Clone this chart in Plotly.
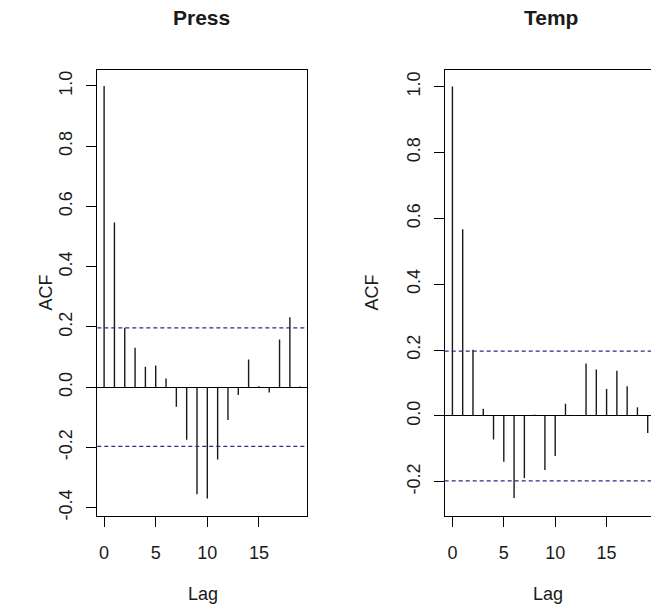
import plotly.graph_objects as go

lags = list(range(20))
press_acf = [1.0, 0.547, 0.197, 0.131, 0.068, 0.072, 0.029, -0.065, -0.175, -0.356,
             -0.370, -0.240, -0.109, -0.026, 0.092, 0.003, -0.018, 0.158, 0.232, 0.002]
temp_acf = [1.0, 0.567, 0.201, 0.022, -0.072, -0.139, -0.249, -0.189, 0.004, -0.164,
            -0.122, 0.037, 0.003, 0.159, 0.141, 0.082, 0.137, 0.090, 0.026, -0.052]
ci_level = 0.197
titles = ["Press", "Temp"]
x_ticks = [0, 5, 10, 15]
press_yticks = [-0.4, -0.2, 0.0, 0.2, 0.4, 0.6, 0.8, 1.0]
temp_yticks = [-0.2, 0.0, 0.2, 0.4, 0.6, 0.8, 1.0]

FONT = "Liberation Sans, Arial, sans-serif"
TXT = "#1a1a1a"
W, H = 651, 616

fig = go.Figure()

def stems(xs, ys, xa, ya):
    sx, sy = [], []
    for l, v in zip(xs, ys):
        sx += [l, l, None]
        sy += [0, v, None]
    fig.add_trace(go.Scatter(x=sx, y=sy, mode="lines", xaxis=xa, yaxis=ya,
                             line=dict(color="#1a1a1a", width=1.4),
                             hoverinfo="skip", showlegend=False))

stems(lags, press_acf, "x", "y")
stems(lags, temp_acf, "x2", "y2")

# confidence bands
for xa, ya in (("x", "y"), ("x2", "y2")):
    for c in (ci_level, -ci_level):
        fig.add_shape(type="line", xref=f"{xa} domain", yref=ya, x0=0, x1=1, y0=c, y1=c,
                      line=dict(color="#2b2b85", width=1.3, dash="4px,3px"))

px = lambda v: v / W
py = lambda v: 1 - v / H

common_ax = dict(showline=True, linecolor="black", linewidth=1.3, showgrid=False,
                 ticks="outside", ticklen=10, tickcolor="black", tickwidth=1.3,
                 tickfont=dict(family=FONT, size=18, color=TXT))

fig.update_layout(
    width=W, height=H, margin=dict(l=0, r=0, t=0, b=0),
    paper_bgcolor="white", plot_bgcolor="white",
    xaxis=dict(domain=[px(97.3), px(306.7)], anchor="y", range=[-0.66, 19.63],
               tickvals=x_ticks, mirror=True, zeroline=False, ticklabelstandoff=10,
               **common_ax),
    yaxis=dict(domain=[py(520), py(70.7)], anchor="x", range=[-0.4273, 1.0527],
               tickvals=press_yticks, ticktext=[f"{v:.1f}" for v in press_yticks],
               tickangle=-90, mirror=True, zeroline=True, zerolinecolor="black",
               zerolinewidth=1.3, ticklabelstandoff=7, **common_ax),
    xaxis2=dict(domain=[px(444.7), 1.0], anchor="y2", range=[-0.75, 19.32],
                tickvals=x_ticks, mirror=True, zeroline=False, ticklabelstandoff=10,
                **common_ax),
    yaxis2=dict(domain=[py(520), py(70.7)], anchor="x2", range=[-0.3033, 1.05],
                tickvals=temp_yticks, ticktext=[f"{v:.1f}" for v in temp_yticks],
                tickangle=-90, mirror=False, zeroline=True, zerolinecolor="black",
                zerolinewidth=1.3, ticklabelstandoff=6, **common_ax),
)

ann = []
for txt, cx in zip(titles, (201.5, 551.0)):
    ann.append(dict(text=f"<b>{txt}</b>", x=px(cx), y=py(18), xref="paper", yref="paper",
                    showarrow=False, xanchor="center", yanchor="middle",
                    font=dict(family=FONT, size=21, color=TXT)))
for cx in (203.0, 548.0):
    ann.append(dict(text="Lag", x=px(cx), y=py(599), xref="paper", yref="paper",
                    showarrow=False, xanchor="center", yanchor="middle",
                    font=dict(family=FONT, size=18, color=TXT)))
for cx in (46.0, 372.0):
    ann.append(dict(text="ACF", x=px(cx), y=py(295), xref="paper", yref="paper",
                    showarrow=False, xanchor="center", yanchor="middle", textangle=-90,
                    font=dict(family=FONT, size=18, color=TXT)))
fig.update_layout(annotations=ann)

fig.write_html("out.html")
